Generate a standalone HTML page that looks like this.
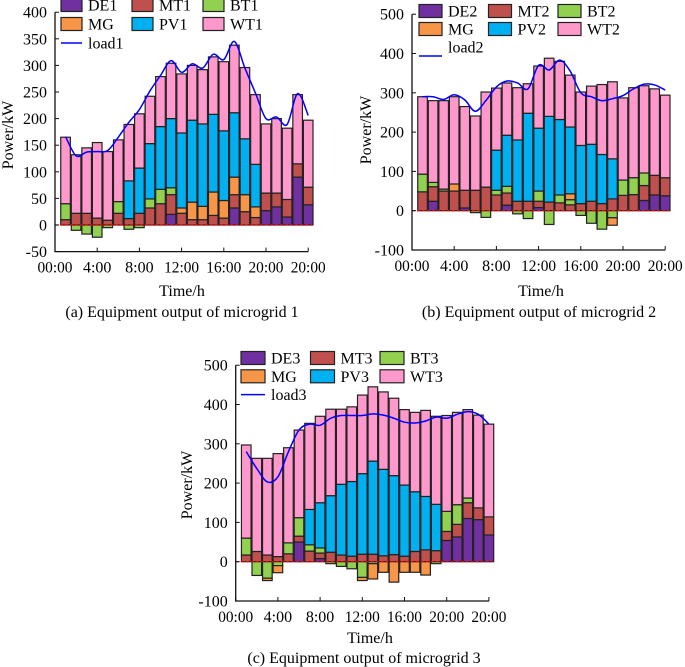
<!DOCTYPE html>
<html><head><meta charset="utf-8"><style>
html,body{margin:0;padding:0;background:#fff;}
svg{display:block;font-family:"Liberation Serif",serif;}
</style></head><body>
<svg id="fig" width="685" height="667" viewBox="0 0 685 667" xmlns="http://www.w3.org/2000/svg"></svg>
<script>
const hours=[1,2,3,4,5,6,7,8,9,10,11,12,13,14,15,16,17,18,19,20,21,22,23,24];
const xTickLabels=["00:00","4:00","8:00","12:00","16:00","20:00","20:00"];
// microgrid 1
const de1=[0,0,0,0,0,0,0,0,0,0,20,0,0,0,0,0,32,0,0,27,34,15,90,38];
const mt1=[10,22,22,13,9,22,12,22,32,40,37,22,10,10,18,13,25,25,14,33,26,33,25,33];
const bt1=[30,-10,-17,-23,-5,22,-8,-5,17,27,13,0,0,0,0,0,0,0,0,0,0,0,0,0];
const mg1=[0,0,0,0,0,0,0,0,0,0,0,10,33,25,44,33,33,32,20,0,0,0,0,0];
const pv1=[0,0,0,0,0,0,71,85,104,118,130,141,154,155,146,131,121,105,80,0,0,0,0,0];
const wt1=[125,110,123,142,129,116,106,102,89,94,104,111,103,102,108,130,127,134,131,130,140,134,130,126];
const load1=[166,130,137,138,140,165,193,217,252,281,309,287,303,295,321,311,345,295,248,200,203,189,247,206];
const yTicks1=[-50,0,50,100,150,200,250,300,350,400];
// microgrid 2
const de2=[0,24,0,0,7,0,0,0,14,0,0,8,0,0,0,0,0,0,0,0,0,26,40,38];
const mt2=[48,37,50,50,45,52,60,40,31,24,24,16,22,20,15,18,24,18,30,39,41,38,50,46];
const bt2=[45,11,5,0,0,-5,-17,12,17,-8,-20,26,-35,20,13,-12,-32,-47,-18,39,43,32,0,0];
const mg2=[0,0,0,18,0,0,0,0,0,0,0,0,0,0,15,0,0,0,-19,0,0,0,0,0];
const pv2=[0,0,0,0,0,0,0,102,130,156,224,160,218,192,170,148,145,125,102,0,0,0,0,0];
const wt2=[197,208,225,222,213,189,242,158,133,133,75,158,148,148,132,136,148,178,196,209,229,222,220,210];
const load2=[290,290,283,295,282,253,280,315,330,325,310,370,358,383,355,300,290,280,285,293,310,322,320,307];
const yTicks2=[-100,0,100,200,300,400,500];
// microgrid 3
const de3=[0,0,0,0,0,50,0,8,0,0,0,0,0,0,0,0,0,0,0,54,63,110,107,68];
const mt3=[17,26,17,13,20,15,27,14,24,17,14,19,19,15,18,14,26,30,28,23,32,40,30,46];
const bt3=[43,-35,-42,-10,28,47,16,13,-5,-12,-18,-40,-5,0,0,0,0,0,-5,51,50,12,0,0];
const mg3=[0,0,-6,-18,0,0,0,0,0,0,0,-8,-39,-27,-52,-27,-27,-34,0,0,0,0,0,0];
const pv3=[0,0,0,0,0,0,90,115,144,180,190,205,237,220,201,181,152,136,118,0,0,0,0,0];
const wt3=[237,237,246,262,242,223,219,220,220,191,190,200,189,197,197,192,202,219,224,244,235,225,236,236];
const load3=[280,237,203,216,280,335,350,347,365,372,372,372,376,373,365,355,353,358,368,365,375,382,375,350];
const yTicks3=[-100,0,100,200,300,400,500];

const NS="http://www.w3.org/2000/svg";
const fig=document.getElementById('fig');
const COL={DE:"#7030a0",MT:"#c0504d",BT:"#92d050",MG:"#f79646",PV:"#00b0f0",WT:"#ff99cc"};
function mk(tag,attrs,parent){const e=document.createElementNS(NS,tag);for(const k in attrs)e.setAttribute(k,attrs[k]);(parent||fig).appendChild(e);return e;}

function drawChart(cfg){
  const g=mk('g',{});
  
  
  const ymin=cfg.yTicks[0],ymax=cfg.yTicks[cfg.yTicks.length-1];
  const ys=v=>cfg.y0-(v)*cfg.ppu;
  const xs=h=>cfg.x0+h*cfg.step;
  const xEnd=xs(24);
  const series=[["DE",cfg.de],["MT",cfg.mt],["BT",cfg.bt],["MG",cfg.mg],["PV",cfg.pv],["WT",cfg.wt]];
  hours.forEach((h,i)=>{
    let pos=0,neg=0;
    series.forEach(([k,arr])=>{
      const v=arr[i]; if(!v) return;
      let a,b;
      if(v>0){a=pos;b=pos+v;pos=b;}else{a=neg;b=neg+v;neg=b;}
      const r=mk('rect',{x:xs(h)-4.8,y:ys(Math.max(a,b)),width:9.6,height:Math.abs(ys(a)-ys(b)),fill:COL[k],stroke:"#222",'stroke-width':1.2},g);
      
      
    });
  });
  const z=mk('line',{x1:cfg.x0,x2:xEnd+4,y1:ys(0),y2:ys(0),stroke:"#ff0000",'stroke-width':1.2,'stroke-dasharray':"3,2"},g);
  
  
  const pts=hours.map((h,i)=>[xs(h),ys(cfg.load[i])]);
  let d="M"+pts[0][0]+","+pts[0][1];
  for(let i=0;i<pts.length-1;i++){
    const p0=pts[Math.max(0,i-1)],p1=pts[i],p2=pts[i+1],p3=pts[Math.min(pts.length-1,i+2)];
    const c1=[p1[0]+(p2[0]-p0[0])/6,p1[1]+(p2[1]-p0[1])/6];
    const c2=[p2[0]-(p3[0]-p1[0])/6,p2[1]-(p3[1]-p1[1])/6];
    d+=" C"+c1+" "+c2+" "+p2;
  }
  const ll=mk('path',{d:d,fill:"none",stroke:"#0000ff",'stroke-width':1.5},g);
  
  
  const yb=ys(ymin),yt=ys(ymax);
  const ax=mk('path',{d:`M${cfg.x0},${yt} L${cfg.x0},${yb} L${xEnd},${yb}`,fill:"none",stroke:"#111",'stroke-width':1.3},g);
  
  
  cfg.yTicks.forEach(v=>{
    mk('line',{x1:cfg.x0,x2:cfg.x0+4,y1:ys(v),y2:ys(v),stroke:"#111",'stroke-width':1},g);
    const t=mk('text',{x:cfg.x0-8,y:ys(v)+5.5,'text-anchor':"end",'font-size':16},g);
    
    
    t.textContent=v;
  });
  xTickLabels.forEach((lab,j)=>{
    const x=xs(j*4);
    mk('line',{x1:x,x2:x,y1:yb,y2:yb-4,stroke:"#111",'stroke-width':1},g);
    const attrs={x:x,y:yb+21,'text-anchor':"middle",'font-size':16};
    if(lab.length===5){attrs.textLength=35;attrs.lengthAdjust="spacingAndGlyphs";}
    const t=mk('text',attrs,g);
    
    
    t.textContent=lab;
  });
  const yl=mk('text',{x:0,y:0,transform:`translate(${cfg.ylx},${cfg.yly}) rotate(-90)`,'text-anchor':"middle",'font-size':16},g);
  
  
  yl.textContent="Power/kW";
  const xl=mk('text',{x:cfg.xlx,y:cfg.xly,'text-anchor':"middle",'font-size':16},g);
  
  
  xl.textContent="Time/h";
  const cp=mk('text',{x:cfg.cx,y:cfg.cy,'text-anchor':"middle",'font-size':16},g);
  
  
  cp.textContent=cfg.caption;
  const L=cfg.leg;
  const items=[["DE"+cfg.n,"DE"],["MT"+cfg.n,"MT"],["BT"+cfg.n,"BT"],["MG","MG"],["PV"+cfg.n,"PV"],["WT"+cfg.n,"WT"]];
  items.forEach(([lab,k],i)=>{
    const col=i%3,row=Math.floor(i/3);
    const sx=L.x+col*L.dx, sy=L.y+row*L.dy;
    const r=mk('rect',{x:sx,y:sy-6.5,width:L.sw,height:13,fill:COL[k],stroke:"#222",'stroke-width':1.2},g);
    
    
    const t=mk('text',{x:sx+L.sw+6,y:sy+5.5,'font-size':16},g);
    
    
    t.textContent=lab;
  });
  const ly=L.y+2*L.dy;
  const lln=mk('line',{x1:L.x,x2:L.x+L.sw,y1:ly+L.lineOff,y2:ly+L.lineOff,stroke:"#0000ff",'stroke-width':1.5},g);
  
  
  const lt=mk('text',{x:L.x+L.sw+6,y:ly+5.5,'font-size':16},g);
  
  
  lt.textContent="load"+cfg.n;
}

drawChart({id:'chart-microgrid-1',n:1,x0:55,step:10.55,y0:225,ppu:26.6/50,yTicks:yTicks1,
  de:de1,mt:mt1,bt:bt1,mg:mg1,pv:pv1,wt:wt1,load:load1,
  ylx:13,yly:135,xlx:182,xly:296,cx:182,cy:317,caption:"(a) Equipment output of microgrid 1",
  leg:{x:61,y:5,dx:71,dy:19,sw:21,lineOff:0}});
drawChart({id:'chart-microgrid-2',n:2,x0:412,step:10.55,y0:210.7,ppu:39.3/100,yTicks:yTicks2,
  de:de2,mt:mt2,bt:bt2,mg:mg2,pv:pv2,wt:wt2,load:load2,
  ylx:371,yly:130,xlx:541,xly:296,cx:539,cy:317,caption:"(b) Equipment output of microgrid 2",
  leg:{x:419,y:11,dx:69.5,dy:18,sw:23,lineOff:9}});
drawChart({id:'chart-microgrid-3',n:3,x0:235.7,step:10.55,y0:561.7,ppu:39.3/100,yTicks:yTicks3,
  de:de3,mt:mt3,bt:bt3,mg:mg3,pv:pv3,wt:wt3,load:load3,
  ylx:192,yly:485,xlx:370,xly:643,cx:364,cy:663,caption:"(c) Equipment output of microgrid 3",
  leg:{x:241,y:358,dx:69.5,dy:18.3,sw:24,lineOff:0}});
</script>
</body></html>
